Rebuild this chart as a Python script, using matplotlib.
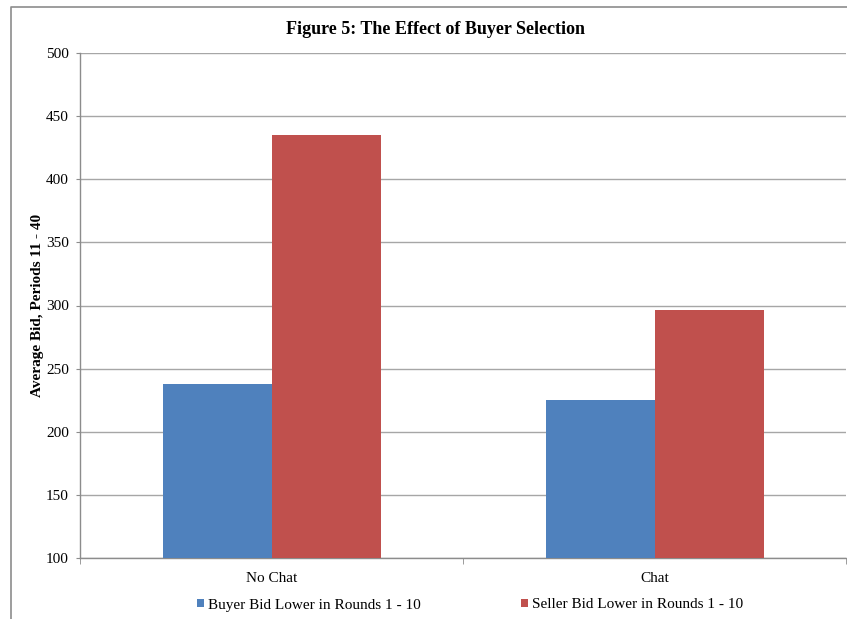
import numpy as np
import matplotlib.pyplot as plt
from matplotlib.lines import Line2D

# Average bids by chat treatment and who bid lower in rounds 1-10
categories = ["No Chat", "Chat"]
buyer_lower = [237.6, 224.9]
seller_lower = [435.3, 296.6]
series_labels = ["Buyer Bid Lower in Rounds 1 - 10", "Seller Bid Lower in Rounds 1 - 10"]

BLUE = "#4F81BD"
RED = "#C0504D"
GRID = "#A6A6A6"
AXIS = "#8C8C8C"

plt.rcParams["font.family"] = ["Liberation Serif", "DejaVu Serif"]

fig = plt.figure(figsize=(8.47, 6.19), dpi=100)
ax = fig.add_axes([80 / 847, 1 - 558 / 619, 766 / 847, 505 / 619])

x = np.arange(len(categories))
bar_w = 109 / 383  # Excel-style gap width of 150%
ax.bar(x - bar_w / 2, np.array(buyer_lower) - 100, bar_w, bottom=100,
       color=BLUE, label=series_labels[0], zorder=3)
ax.bar(x + bar_w / 2, np.array(seller_lower) - 100, bar_w, bottom=100,
       color=RED, label=series_labels[1], zorder=3)

ax.set_xlim(-0.5, len(categories) - 0.5)
ax.set_ylim(100, 500)
ax.set_yticks(np.arange(100, 501, 50))
ax.grid(True, axis="y", color=GRID, linewidth=1.0, zorder=0)

ax.set_xticks(x)
ax.set_xticklabels(categories, fontsize=11)
ax.set_xticks(np.arange(-0.5, len(categories), 1.0), minor=True)
ax.tick_params(axis="x", which="major", length=0, pad=10)
ax.tick_params(axis="x", which="minor", length=4, color=AXIS, direction="out")
ax.tick_params(axis="y", length=3, color=AXIS, labelsize=11, pad=5)

for side in ["top", "right"]:
    ax.spines[side].set_visible(False)
for side in ["left", "bottom"]:
    ax.spines[side].set_color(AXIS)
    ax.spines[side].set_linewidth(1.0)

ax.set_ylabel("Average Bid, Periods 11 - 40", fontsize=11, fontweight="bold")
ax.yaxis.set_label_coords(-0.0465, 0.5)

fig.text(435 / 847, 1 - 29 / 619, "Figure 5: The Effect of Buyer Selection",
         ha="center", va="center", fontsize=13, fontweight="bold")

# outer chart frame (top and left edges are visible)
fig.add_artist(Line2D([11 / 847, 11 / 847, 1.0], [0.0, 1 - 7 / 619, 1 - 7 / 619],
                      transform=fig.transFigure, color=AXIS, linewidth=1.2))

leg = fig.legend(loc="center", bbox_to_anchor=(470 / 847, 1 - 605 / 619), ncol=2,
                 frameon=False, fontsize=11, handlelength=0.5, handleheight=0.5,
                 handletextpad=0.25, columnspacing=6.55)

fig.savefig("out.png", dpi=100)
